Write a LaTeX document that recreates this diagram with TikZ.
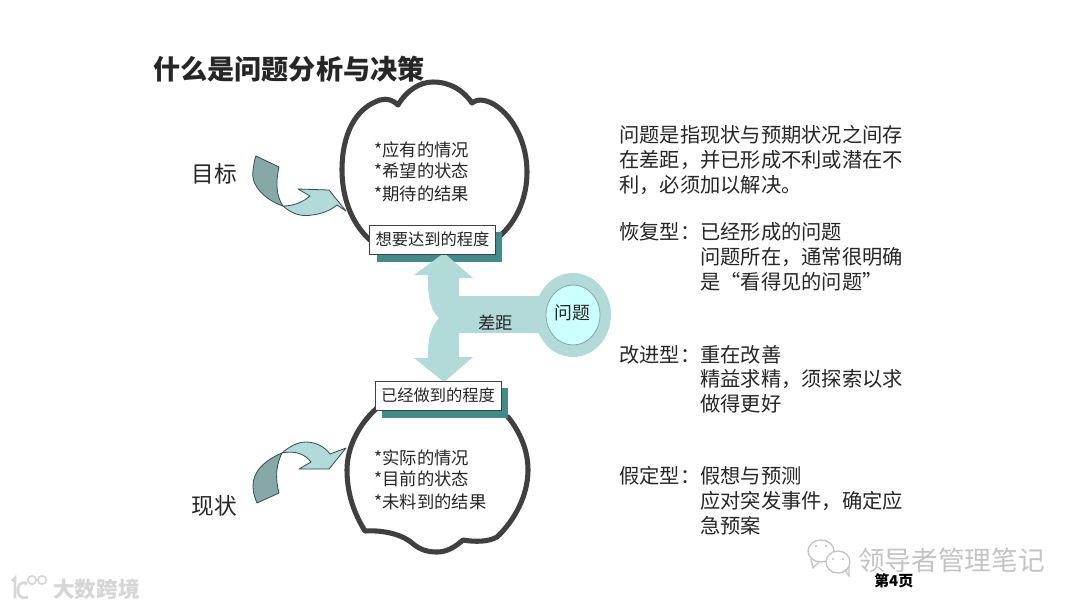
\documentclass[tikz,border=0pt]{standalone}
\usepackage{fontspec}
\setmainfont{Noto Sans CJK SC}
\definecolor{inkc}{HTML}{262626}
\definecolor{cloudc}{HTML}{404040}
\definecolor{lightc}{HTML}{B2DAD8}
\definecolor{darkc}{HTML}{86A9A8}
\definecolor{edgec}{HTML}{2F4F4F}
\definecolor{shadowc}{HTML}{418C8A}
\definecolor{qfill}{HTML}{CCFFFF}
\definecolor{markc}{HTML}{C4C4C4}
\definecolor{markl}{HTML}{D6D6D6}
\tikzset{
  x=0.75pt,y=-0.75pt,
  txt/.style={anchor=base west,inner sep=0pt,text=inkc},
  body/.style={txt,font=\fontsize{15.2}{18}\selectfont},
  cloudtxt/.style={txt,font=\fontsize{13}{15}\selectfont},
  side/.style={txt,font=\fontsize{17}{20}\selectfont},
  cloudline/.style={draw=cloudc,line width=3.8pt,line cap=round,line join=round},
  ribbonlight/.style={fill=lightc,draw=edgec,line width=0.6pt,line join=round},
  ribbondark/.style={fill=darkc,draw=edgec,line width=0.6pt,line join=round},
  levelbox/.style={draw=cloudc,fill=white,line width=0.7pt,inner sep=0pt,minimum width=94.5pt,minimum height=21.8pt,text=inkc,font=\fontsize{12.2}{15}\selectfont},
  wmark/.style={txt,text=markc},
  wmarkl/.style={txt,text=markl}
}
\begin{document}
\begin{tikzpicture}
\useasboundingbox (0,0) rectangle (1080,608);
\fill[white] (0,0) rectangle (1080,608);

% clouds
\draw[cloudline] (370,240) .. controls (350,222) and (342,195) .. (342,170)
  .. controls (342,135) and (355,108) .. (380,100)
  .. controls (387,98) and (393,100) .. (398,105)
  .. controls (407,90) and (420,82) .. (433,82)
  .. controls (450,82) and (463,90) .. (472,103)
  .. controls (478,98) and (487,100) .. (495,105)
  .. controls (515,118) and (527,145) .. (527,172)
  .. controls (527,200) and (515,225) .. (495,240);
\draw[cloudline] (377,408) .. controls (358,425) and (347,448) .. (347,470)
  .. controls (347,495) and (355,515) .. (365,531)
  .. controls (380,530) and (400,533) .. (412,543)
  .. controls (420,550) and (428,552) .. (437,552)
  .. controls (447,552) and (455,547) .. (463,540)
  .. controls (475,542) and (488,542) .. (497,537)
  .. controls (515,520) and (528,495) .. (528,470)
  .. controls (528,450) and (520,432) .. (508,417);

% curved arrows
\draw[ribbonlight] (283,206) .. controls (292,214) and (302,217) .. (312,215)
  .. controls (322,214) and (331,210) .. (337,205) -- (346,211) -- (329,190) -- (298,189) -- (310,196)
  .. controls (302,203) and (292,206) .. (283,206) -- cycle;
\draw[ribbondark] (256,156) -- (279,167) .. controls (275,185) and (277,197) .. (283,206)
  .. controls (265,200) and (250,185) .. (253,170) .. controls (254,165) and (254,160) .. (256,156) -- cycle;
\draw[ribbonlight] (282,453) .. controls (290,446) and (298,442) .. (306,442)
  .. controls (316,442) and (325,447) .. (330,454) -- (346,448) -- (329,469) -- (299,469) -- (311,462)
  .. controls (306,455) and (296,450) .. (282,453) -- cycle;
\draw[ribbondark] (257,503) -- (279,493) .. controls (275,478) and (276,465) .. (282,453)
  .. controls (265,460) and (252,472) .. (253,487) .. controls (253,493) and (255,498) .. (257,503) -- cycle;

% shadows
\fill[shadowc] (377,232) rectangle (502,262);
\fill[shadowc] (382,388) rectangle (508,418);

% central double arrow
\fill[lightc] (444,253) -- (473,278) -- (459,278) -- (459,296) -- (545,296) -- (545,333) -- (459,333)
  -- (459,357) -- (473,357) -- (444,382) -- (414,358) -- (428,358)
  .. controls (428,345) and (428,330) .. (439,318)
  .. controls (428,308) and (428,290) .. (428,275) -- (414,275) -- cycle;
\fill[lightc] (573,315) ellipse [x radius=38,y radius=42];
\draw[fill=qfill,draw=darkc,line width=0.6pt] (573,315) ellipse [x radius=27,y radius=30];

% level boxes
\node[levelbox] (want) at (432.5,239.5) {想要达到的程度};
\node[levelbox] (done) at (438,395.5) {已经做到的程度};

% cloud text
\node[cloudtxt] (c1) at (374,156) {*应有的情况};
\node[cloudtxt] (c2) at (374,177) {*希望的状态};
\node[cloudtxt] (c3) at (374,200) {*期待的结果};
\node[cloudtxt] (c4) at (374,464) {*实际的情况};
\node[cloudtxt] (c5) at (374,485) {*目前的状态};
\node[cloudtxt] (c6) at (374,508) {*未料到的结果};

% labels
\node[txt,font=\fontsize{20.35}{24}\selectfont\bfseries] (title) at (153,79) {什么是问题分析与决策};
\node[side] (goal) at (191.5,182.5) {目标};
\node[side] (now) at (191.5,514.5) {现状};
\node[txt,font=\fontsize{13}{16}\selectfont] (gap) at (478,329) {差距};
\node[txt,font=\fontsize{13.4}{16}\selectfont] (prob) at (554,319) {问题};

% right column
\node[body] (r1) at (619,142) {问题是指现状与预期状况之间存};
\node[body] (r2) at (619,167) {在差距，并已形成不利或潜在不};
\node[body] (r3) at (619,192) {利，必须加以解决。};
\node[body] (a0) at (619,239) {恢复型：};
\node[body] (a1) at (700,239) {已经形成的问题};
\node[body] (a2) at (700,264) {问题所在，通常很明确};
\node[body] (a3) at (700,289) {是“看得见的问题”};
\node[body] (b0) at (619,362) {改进型：};
\node[body] (b1) at (700,362) {重在改善};
\node[body] (b2) at (700,386) {精益求精，须探索以求};
\node[body] (b3) at (700,411) {做得更好};
\node[body] (d0) at (619,483) {假定型：};
\node[body] (d1) at (700,483) {假想与预测};
\node[body] (d2) at (700,508) {应对突发事件，确定应};
\node[body] (d3) at (700,533) {急预案};

% watermarks
\draw[markc,line width=1pt] (821,551) ellipse [x radius=13,y radius=11];
\fill[white] (838,562) ellipse [x radius=12,y radius=11];
\draw[markc,line width=1pt] (838,562) ellipse [x radius=12,y radius=11];
\fill[markc] (816,546) circle (1.3) (826,546) circle (1.3) (833,559) circle (1.2) (843,559) circle (1.2);
\draw[markc,line width=1pt] (811,559) -- (813,568) -- (819,562);
\draw[markc,line width=1pt] (845,570) -- (849,576) -- (849,567);
\node[wmark,font=\fontsize{20}{24}\selectfont] (wm) at (858,570) {领导者管理笔记};
\node[txt,text=black,font=\fontsize{11.2}{14}\selectfont\bfseries] (page) at (874,586) {第4页};
\draw[markl,line width=2pt] (12,581) -- (15,578) -- (15,598);
\draw[markl,line width=2pt] (28,597) .. controls (20,600) and (17,594) .. (18,588) .. controls (19,583) and (24,581) .. (27,584);
\draw[markl,line width=1.2pt] (32,580) circle (4.2) (42,580) circle (4.2);
\node[wmarkl,font=\fontsize{16.2}{20}\selectfont\bfseries] (wl) at (53,597) {大数跨境};
\end{tikzpicture}
\end{document}
